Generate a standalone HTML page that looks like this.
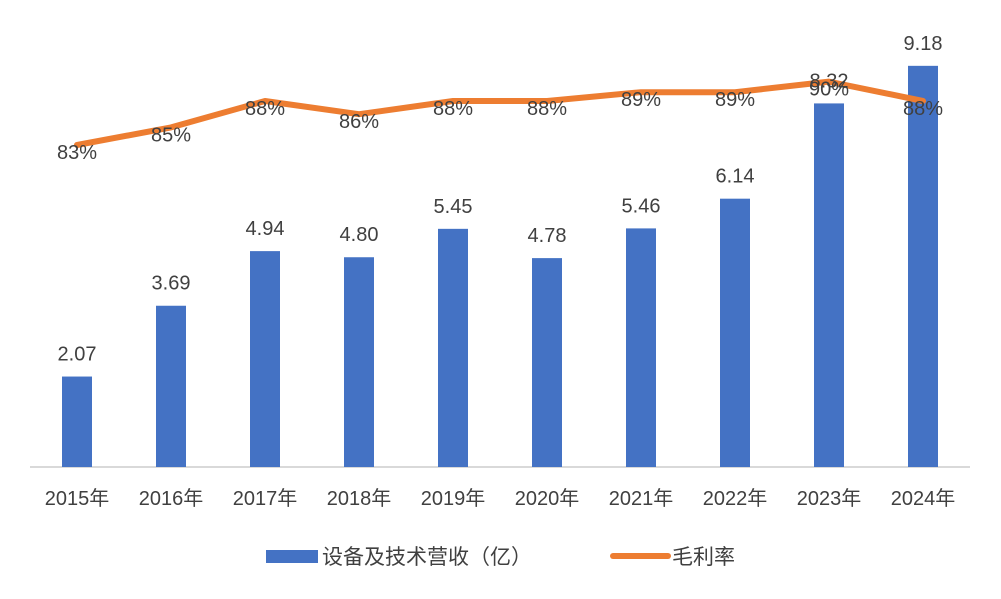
<!DOCTYPE html>
<html><head><meta charset="utf-8"><style>
body{margin:0;background:#fff;}
svg{display:block;font-family:"Liberation Sans","Noto Sans CJK SC",sans-serif;}
</style></head><body>
<svg id="chart" width="1001" height="599" viewBox="0 0 1001 599">
<line x1="30" y1="467" x2="970" y2="467" stroke="#d9d9d9" stroke-width="2"/>
<g id="bars"></g><g id="line"></g><g id="labels"></g>
<g>
<rect x="266" y="550" width="52" height="13" fill="#4472c4"/>
<text x="322" y="564" font-size="21" fill="#404040">设备及技术营收（亿）</text>
<line x1="613" y1="556" x2="668" y2="556" stroke="#ed7d31" stroke-width="6" stroke-linecap="round"/>
<text x="672" y="564" font-size="21" fill="#404040">毛利率</text>
</g>
</svg>
<script>
const categories=["2015年","2016年","2017年","2018年","2019年","2020年","2021年","2022年","2023年","2024年"];
const revenue=[2.07,3.69,4.94,4.80,5.45,4.78,5.46,6.14,8.32,9.18];
const margin=[83,85,88,86.5,88,88,89,89,90.2,88];
const marginLabels=["83%","85%","88%","86%","88%","88%","89%","89%","90%","88%"];
const NS="http://www.w3.org/2000/svg";
const xc=i=>77+i*94;
const yb=v=>467-v*43.7;
const yl=v=>145-(v-83)*8.8;
function mk(t,a,p){const e=document.createElementNS(NS,t);for(const k in a)e.setAttribute(k,a[k]);p.appendChild(e);return e;}
const gB=document.getElementById('bars'),gL=document.getElementById('line'),gT=document.getElementById('labels');
revenue.forEach((v,i)=>{
 const r=mk('rect',{x:xc(i)-15,y:yb(v),width:30,height:467-yb(v),fill:'#4472c4'},gB);
 
 
 const t=mk('text',{x:xc(i),y:yb(v)-16,'text-anchor':'middle','font-size':20,fill:'#404040'},gT);
 t.textContent=v.toFixed(2);
 
 
 const c=mk('text',{x:xc(i),y:505,'text-anchor':'middle','font-size':20,fill:'#404040'},gT);
 c.textContent=categories[i];
 
 
});
const pl=mk('polyline',{points:margin.map((v,i)=>xc(i)+','+yl(v)).join(' '),fill:'none',stroke:'#ed7d31','stroke-width':6,'stroke-linejoin':'round','stroke-linecap':'round'},gL);


margin.forEach((v,i)=>{
 const t=mk('text',{x:xc(i),y:yl(v)+14,'text-anchor':'middle','font-size':20,fill:'#404040'},gT);
 t.textContent=marginLabels[i];
 
 
});
</script>
</body></html>
